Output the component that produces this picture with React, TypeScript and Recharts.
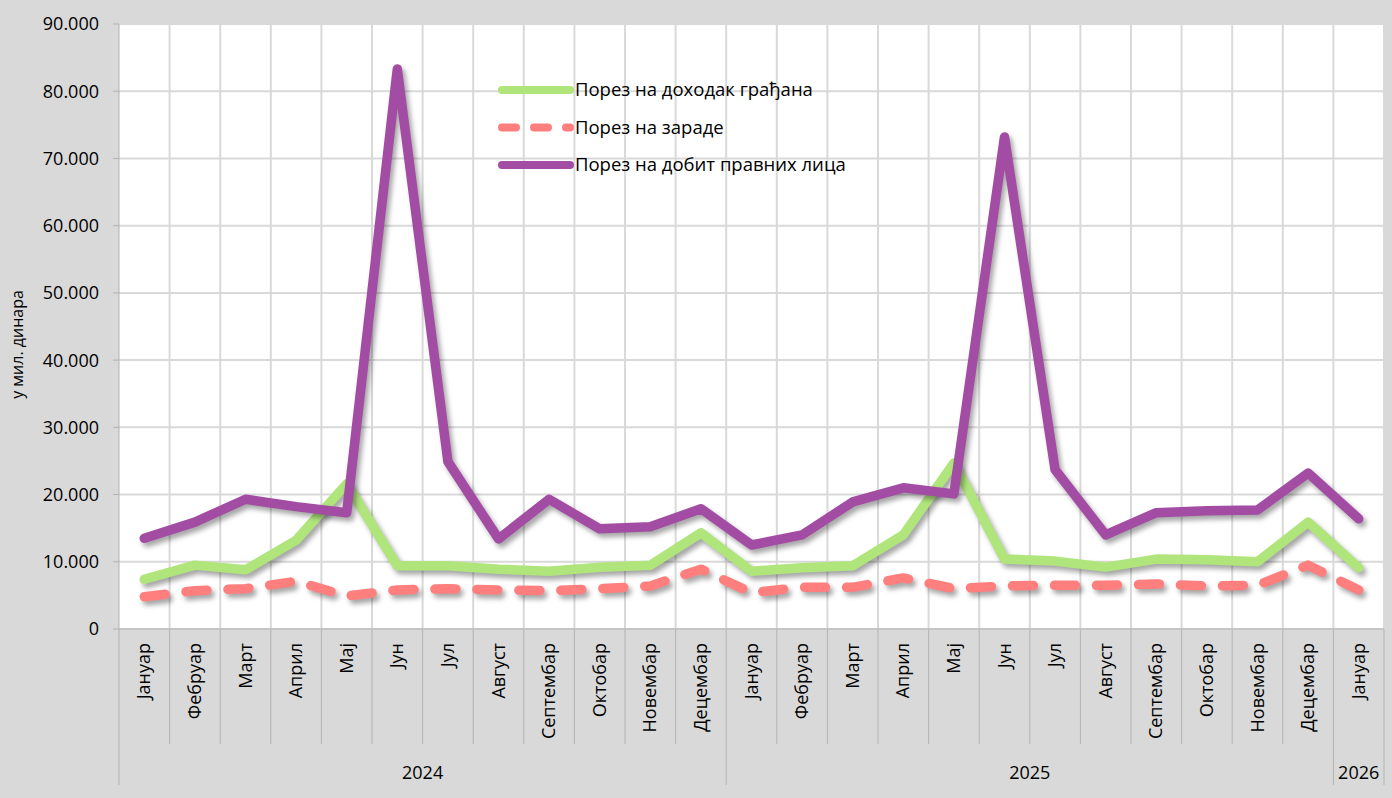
import { CartesianGrid, Legend, Line, LineChart, XAxis, YAxis } from "recharts";

const months = [
  "Јануар", "Фебруар", "Март", "Април", "Мај", "Јун", "Јул", "Август", "Септембар", "Октобар", "Новембар", "Децембар",
  "Јануар", "Фебруар", "Март", "Април", "Мај", "Јун", "Јул", "Август", "Септембар", "Октобар", "Новембар", "Децембар",
  "Јануар",
];
const years = [
  "2024", "2024", "2024", "2024", "2024", "2024", "2024", "2024", "2024", "2024", "2024", "2024",
  "2025", "2025", "2025", "2025", "2025", "2025", "2025", "2025", "2025", "2025", "2025", "2025",
  "2026",
];
const dohodak = [
  7400, 9500, 8800, 13200, 21600, 9400, 9400, 8900, 8600, 9200, 9500, 14300,
  8600, 9100, 9400, 14000, 24700, 10400, 10100, 9200, 10400, 10300, 10000, 15900,
  9100,
];
const zarade = [
  4800, 5700, 6000, 7100, 4900, 5800, 6000, 5800, 5700, 6000, 6400, 8900,
  5400, 6200, 6200, 7600, 6000, 6400, 6500, 6500, 6700, 6400, 6500, 9500,
  5800,
];
const dobit = [
  13500, 15900, 19300, 18200, 17300, 83300, 24900, 13400, 19300, 14900, 15200, 17900,
  12500, 14000, 18900, 21000, 20100, 73200, 23700, 14000, 17300, 17600, 17700, 23200,
  16400,
];
const yTicks = [0, 10000, 20000, 30000, 40000, 50000, 60000, 70000, 80000, 90000];

const data = months.map((month, i) => ({
  month,
  year: years[i],
  dohodak: dohodak[i],
  zarade: zarade[i],
  dobit: dobit[i],
}));

const W = 1392;
const H = 798;
const LEFT = 119;
const RIGHT = 8;
const TOP = 24;
const X_AXIS_H = 169;
const BAND = (W - LEFT - RIGHT) / months.length;
const FONT = "'Open Sans', 'Noto Sans', sans-serif";
const AXIS = "#b3b3b3";
const LINE_W = 9.5;

const fmt = (v: number) => (v === 0 ? "0" : v.toLocaleString("de-DE"));

function MonthTick(props: any) {
  const { x, y, payload } = props;
  const i = payload.index;
  const base = y - 8; // bottom of plot area
  const half = BAND / 2;
  const groupStart = i === 0 || years[i] !== years[i - 1];
  const groupLen = years.filter((yy) => yy === years[i]).length;
  const last = i === months.length - 1;
  return (
    <g>
      <line x1={x - half} x2={x - half} y1={base} y2={groupStart ? base + 156 : base + 115} stroke={AXIS} />
      {last && <line x1={x + half} x2={x + half} y1={base} y2={base + 156} stroke={AXIS} />}
      <text
        transform={`translate(${x + 6},${base + 14}) rotate(-90)`}
        textAnchor="end"
        fontSize={18}
        fontFamily={FONT}
        fill="#000"
      >
        {payload.value}
      </text>
      {groupStart && (
        <text
          x={x - half + (groupLen * BAND) / 2}
          y={base + 150}
          textAnchor="middle"
          fontSize={18}
          fontFamily={FONT}
          fill="#000"
        >
          {years[i]}
        </text>
      )}
    </g>
  );
}

const legendItems = [
  { label: "Порез на доходак грађана", color: "#b0e57c", dash: undefined },
  { label: "Порез на зараде", color: "#ff7f7f", dash: "14 18" },
  { label: "Порез на добит правних лица", color: "#a34ca3", dash: undefined },
];

function ChartLegend() {
  return (
    <svg width={380} height={110} style={{ overflow: "visible", display: "block" }}>
      {legendItems.map((it, k) => (
        <g key={it.label} transform={`translate(0,${k * 37.5})`}>
          <line
            x1={4}
            x2={72}
            y1={15}
            y2={15}
            stroke={it.color}
            strokeWidth={8}
            strokeLinecap="round"
            strokeDasharray={it.dash}
          />
          <text x={77} y={21} fontSize={18.5} fontFamily={FONT} fill="#000">
            {it.label}
          </text>
        </g>
      ))}
    </svg>
  );
}

export default function App() {
  return (
    <div style={{ position: "absolute", left: 0, top: 0, width: W, height: H, background: "#d9d9d9" }}>
      <style>{`.recharts-line-curve { filter: drop-shadow(3px 4px 2.5px rgba(0,0,0,0.35)); }`}</style>
      <LineChart width={W} height={H} data={data} margin={{ top: TOP, right: RIGHT, left: 0, bottom: 0 }}>
        <CartesianGrid
          fill="#fff"
          stroke="#d9d9d9"
          strokeWidth={2}
          verticalCoordinatesGenerator={({ offset }: any) =>
            months.map((_, i) => offset.left + ((i + 1) * offset.width) / months.length)
          }
        />
        <XAxis
          dataKey="month"
          height={X_AXIS_H}
          interval={0}
          padding={{ left: BAND / 2, right: BAND / 2 }}
          tickLine={false}
          axisLine={{ stroke: AXIS }}
          tick={<MonthTick />}
          tickMargin={2}
          tickSize={6}
        />
        <YAxis
          width={LEFT}
          domain={[0, 90000]}
          ticks={yTicks}
          tickFormatter={fmt}
          tick={{ fontSize: 18, fontFamily: FONT, fill: "#000" }}
          tickLine={{ stroke: AXIS }}
          axisLine={{ stroke: AXIS }}
          tickSize={6}
          tickMargin={14}
          label={{
            value: "у мил. динара",
            angle: -90,
            position: "insideLeft",
            offset: 17,
            dy: 18,
            style: { fontSize: 16, fontFamily: FONT, fill: "#000", textAnchor: "middle" },
          }}
        />
        <Legend
          layout="horizontal"
          verticalAlign="middle"
          align="center"
          wrapperStyle={{ left: 498, top: 75, width: 380 }}
          content={<ChartLegend />}
        />
        <Line
          dataKey="dohodak"
          name="Порез на доходак грађана"
          stroke="#b0e57c"
          strokeWidth={LINE_W}
          strokeLinecap="round"
          strokeLinejoin="round"
          dot={false}
          activeDot={false}
          isAnimationActive={false}
        />
        <Line
          dataKey="zarade"
          name="Порез на зараде"
          stroke="#ff7f7f"
          strokeWidth={LINE_W}
          strokeDasharray="21 21"
          strokeLinecap="round"
          strokeLinejoin="round"
          dot={false}
          activeDot={false}
          isAnimationActive={false}
        />
        <Line
          dataKey="dobit"
          name="Порез на добит правних лица"
          stroke="#a34ca3"
          strokeWidth={LINE_W}
          strokeLinecap="round"
          strokeLinejoin="round"
          dot={false}
          activeDot={false}
          isAnimationActive={false}
        />
      </LineChart>
    </div>
  );
}
